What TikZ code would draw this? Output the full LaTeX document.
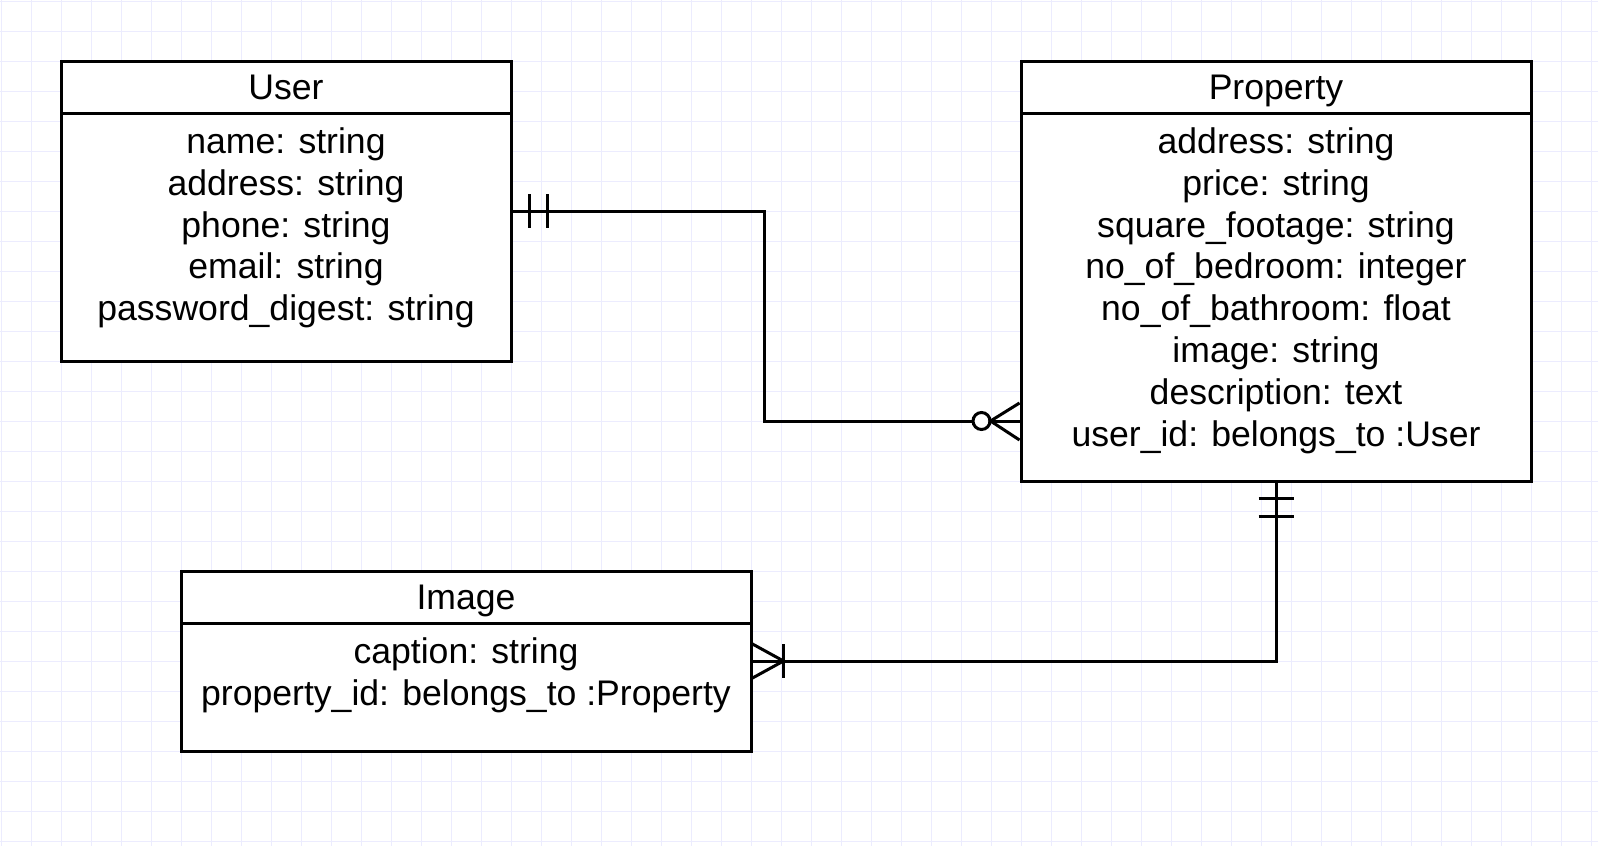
\documentclass[tikz,border=0pt]{standalone}
\usepackage{fontspec}
\setmainfont{Liberation Sans}
\usetikzlibrary{
	calc,
	positioning,
}
\definecolor{gridblue}{RGB}{236,236,254}

\begin{document}
\begin{tikzpicture}[x=0.5pt, y=-0.5pt, line width=1.5pt,
		every node/.style={font=\fontsize{17.8}{21}\selectfont},
		entity/.style={draw, fill=white, inner sep=0pt},
		title/.style={entity, anchor=north, minimum height=26pt, text height=12.8pt, text depth=0pt},
		attr/.style={anchor=base, inner sep=0pt},
	]
	\useasboundingbox[fill=white] (0,0) rectangle (1598,846);
	\foreach \g in {1,31,...,1591}
		\draw[gridblue, line width=0.5pt] (\g,0) -- (\g,846);
	\foreach \g in {1,31,...,841}
		\draw[gridblue, line width=0.5pt] (0,\g) -- (1598,\g);

	% entities
	\node[entity, minimum width=225pt, minimum height=150pt] (user) at (286,211) {};
	\node[title, minimum width=225pt] (user-head) at (user.north) {User};
	\foreach \txt [count=\i] in {name: string, address: string, phone: string, email: string, password\_digest: string}
		\path (user-head.south) ++(0,{39+41.8*(\i-1)}) node[attr] (user-a\i) {\txt};

	\node[entity, minimum width=255pt, minimum height=210pt] (prop) at (1276,271) {};
	\node[title, minimum width=255pt] (prop-head) at (prop.north) {Property};
	\foreach \txt [count=\i] in {address: string, price: string, square\_footage: string, no\_of\_bedroom: integer, no\_of\_bathroom: float, image: string, description: text, user\_id: belongs\_to :User}
		\path (prop-head.south) ++(0,{39+41.8*(\i-1)}) node[attr] (prop-a\i) {\txt};

	\node[entity, minimum width=285pt, minimum height=90pt] (img) at (466,661) {};
	\node[title, minimum width=285pt] (img-head) at (img.north) {Image};
	\foreach \txt [count=\i] in {caption: string, property\_id: belongs\_to :Property}
		\path (img-head.south) ++(0,{39+41.8*(\i-1)}) node[attr] (img-a\i) {\txt};

	% user -- property
	\coordinate (p-in) at ([yshift=-75pt]prop.west);
	\draw (user.east) -- ++(252,0) |- (p-in);
	\draw (user.east) ++(17,-17) -- ++(0,34);
	\draw (user.east) ++(35,-17) -- ++(0,34);
	\draw[fill=white] ($(p-in)+(-38,0)$) circle[radius=4.25pt];
	\draw (p-in) ++(0,-18) -- ++(-29,18) -- ++(29,19);

	% property -- image
	\draw (img.east) -| (prop.south);
	\draw (prop.south) ++(-17.5,16) -- ++(35,0);
	\draw (prop.south) ++(-17.5,34) -- ++(35,0);
	\draw (img.east) ++(0,-17) -- ++(31,17) -- ++(-31,17);
	\draw (img.east) ++(31,-17) -- ++(0,34);
\end{tikzpicture}
\end{document}
